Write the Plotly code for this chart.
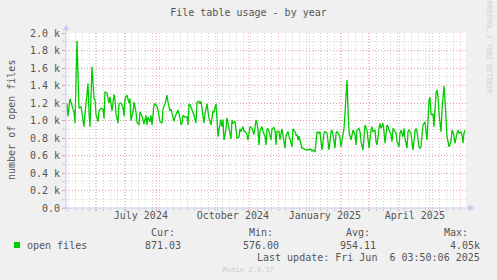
import plotly.graph_objects as go
import pandas as pd

# ---- data ----
day_index = [1, 2, 4, 6, 7, 8, 9, 11, 13, 15, 18, 19, 21, 22, 23, 24, 26, 28, 29, 30, 32, 33, 35, 37, 38,
             39, 41, 43, 44, 46, 48, 49, 50, 52, 53, 55, 57, 58, 59, 61, 63, 64, 65, 67, 68, 70, 71, 73,
             74, 76, 78, 80, 81, 82, 84, 85, 86, 88, 89, 91, 92, 94, 96, 97, 99, 101, 102, 103, 104, 105,
             106, 108, 109, 111, 112, 114, 115, 116, 117, 119, 121, 122, 123, 124, 126, 128, 130, 131, 133,
             134, 135, 136, 138, 139, 141, 142, 143, 145, 146, 147, 148, 150, 151, 152, 153, 154, 155, 156,
             157, 158, 160, 161, 162, 163, 165, 166, 167, 169, 170, 171, 173, 174, 175, 177, 178, 179, 181,
             182, 184, 186, 188, 189, 190, 191, 192, 193, 194, 196, 197, 199, 200, 201, 202, 203, 205, 206,
             208, 209, 210, 211, 213, 214, 215, 216, 217, 219, 220, 222, 223, 224, 226, 227, 229, 230, 231,
             232, 233, 235, 236, 237, 239, 240, 242, 243, 244, 245, 246, 247, 249, 250, 251, 253, 254, 255,
             256, 258, 259, 261, 262, 263, 265, 266, 267, 268, 269, 270, 271, 273, 274, 275, 277, 278, 279,
             280, 281, 282, 283, 285, 286, 287, 289, 290, 291, 293, 294, 295, 297, 298, 299, 301, 302, 303,
             305, 306, 307, 309, 310, 311, 313, 314, 315, 317, 318, 319, 321, 322, 323, 325, 326, 327, 329,
             330, 331, 333, 334, 335, 337, 338, 339, 341, 342, 343, 345, 346, 347, 349, 350, 351, 353, 354,
             355, 357, 358, 359, 361, 362, 363, 364, 365, 366, 367, 368, 369, 370, 371, 372, 373, 375, 376,
             377, 378, 379, 380, 381, 383, 385, 386, 387, 388, 389, 391, 392, 393, 395, 396, 397, 398, 399]
open_files = [1200, 1050, 1250, 1150, 1130, 1100, 970, 1910, 1140, 1160, 930, 1070, 1310, 1425, 1100, 930,
              1615, 1254, 1240, 1070, 986, 1110, 1140, 1130, 1020, 1330, 1310, 1200, 1270, 1110, 1300, 1240,
              1070, 970, 1190, 1200, 1150, 1050, 1250, 1290, 1200, 1250, 1000, 1100, 1210, 1100, 980, 950,
              1100, 1050, 960, 1060, 950, 1040, 986, 1060, 950, 1177, 1190, 1160, 1120, 986, 970, 1130, 1190,
              1290, 1210, 1140, 1110, 1130, 1080, 990, 1040, 1100, 1120, 1030, 950, 970, 1060, 1040, 1040,
              950, 1190, 1180, 1130, 1060, 970, 1210, 1220, 1190, 1220, 1130, 970, 1080, 1190, 1100, 1030,
              950, 1040, 1110, 1100, 1190, 1010, 815, 900, 960, 1010, 930, 1010, 777, 900, 1030, 960, 880,
              790, 1005, 970, 990, 890, 797, 810, 905, 875, 930, 875, 875, 840, 777, 930, 910, 840, 950, 1005,
              970, 900, 720, 885, 930, 875, 820, 720, 905, 905, 875, 777, 905, 920, 890, 720, 875, 875, 777,
              850, 905, 830, 683, 830, 875, 820, 790, 700, 905, 875, 830, 840, 777, 820, 700, 683, 683, 663,
              663, 670, 663, 675, 670, 650, 663, 640, 758, 872, 855, 872, 758, 663, 855, 872, 855, 758, 663,
              872, 890, 840, 720, 683, 855, 872, 840, 800, 700, 855, 910, 1082, 1349, 1463, 1120, 872, 777,
              855, 890, 837, 720, 890, 910, 872, 758, 663, 890, 949, 890, 740, 683, 890, 930, 872, 890, 758,
              720, 910, 968, 910, 968, 872, 740, 949, 930, 890, 837, 758, 910, 872, 855, 758, 700, 855, 890,
              815, 910, 800, 683, 872, 890, 855, 758, 663, 872, 910, 872, 700, 683, 700, 949, 968, 986, 777,
              968, 1234, 1265, 1082, 1063, 1080, 930, 1196, 1311, 1349, 1270, 1082, 872, 1120, 1300, 1394,
              1234, 1040, 815, 700, 758, 890, 872, 815, 740, 855, 890, 855, 872, 837, 740, 855, 890, 872, 872]
n = min(len(day_index), len(open_files))
day_index = day_index[:n]
open_files = open_files[:n]

y_tick_values = [0, 200, 400, 600, 800, 1000, 1200, 1400, 1600, 1800, 2000]
y_tick_labels = ["0.0", "0.2 k", "0.4 k", "0.6 k", "0.8 k", "1.0 k", "1.2 k", "1.4 k", "1.6 k", "1.8 k", "2.0 k"]
x_label_dates = ["2024-07-16", "2024-10-16", "2025-01-16", "2025-04-16"]
x_label_texts = ["July 2024", "October 2024", "January 2025", "April 2025"]

legend_stats = {"Cur:": "871.03", "Min:": "576.00", "Avg:": "954.11", "Max:": "4.05k"}

# ---- figure ----
end = pd.Timestamp("2025-06-06 03:50:06")
start = end - pd.Timedelta(days=400)
dates = start + pd.to_timedelta(day_index, unit="D")

FONT = "DejaVu Sans Mono"
TXT = "#555555"
RED_GRID = "rgba(235,110,110,0.5)"
GRAY_GRID = "rgba(170,170,170,0.5)"
AXIS = "#c8c8f0"

fig = go.Figure()
fig.add_trace(go.Scatter(x=dates, y=open_files, mode="lines",
                         line=dict(color="#00cc00", width=1.3), showlegend=False,
                         hoverinfo="skip"))
fig.add_trace(go.Scatter(x=[start, end], y=[None, None], xaxis="x2", mode="lines",
                         showlegend=False, hoverinfo="skip"))

W, H = 497, 280
L, R, T, B = 66, 31, 33, 72
pw, ph = W - L - R, H - T - B


def px(x):
    return (x - L) / pw


def py(y):
    return (H - B - y) / ph


fig.update_layout(
    width=W, height=H,
    margin=dict(l=L, r=R, t=T, b=B, pad=0),
    paper_bgcolor="#f0f0f0", plot_bgcolor="white",
    font=dict(family=FONT, size=10, color=TXT),
    title=dict(text="File table usage - by year", x=0.5, xref="container", xanchor="center",
               y=1 - 12 / H, yref="container", yanchor="middle",
               font=dict(family=FONT, size=10, color=TXT)),
    xaxis=dict(type="date", range=[start, end], tick0="2024-06-01", dtick="M1",
               showticklabels=False, showgrid=True, gridcolor=RED_GRID, griddash="1px,2px",
               gridwidth=1, ticks="outside", ticklen=2, tickcolor=RED_GRID,
               minor=dict(dtick=7 * 86400000, tick0="2024-05-05", showgrid=True,
                          gridcolor=GRAY_GRID, griddash="1px,2px", gridwidth=1,
                          ticks="outside", ticklen=2, tickcolor=GRAY_GRID),
               showline=False, zeroline=False, fixedrange=True),
    xaxis2=dict(type="date", overlaying="x", anchor="y", side="bottom", range=[start, end],
                tickmode="array", tickvals=x_label_dates, ticktext=x_label_texts,
                showgrid=False, ticks="", showline=False, zeroline=False,
                tickfont=dict(family=FONT, size=10, color=TXT)),
    yaxis=dict(range=[0, 2000], tickmode="array", tickvals=y_tick_values, ticktext=y_tick_labels,
               showgrid=True, gridcolor=RED_GRID, griddash="1px,2px", gridwidth=1,
               ticks="outside", ticklen=3, tickcolor=RED_GRID,
               minor=dict(dtick=100, tick0=0, showgrid=True, gridcolor=GRAY_GRID,
                          griddash="1px,2px", ticks="outside", ticklen=3, tickcolor=GRAY_GRID),
               showline=False, zeroline=False,
               tickfont=dict(family=FONT, size=10, color=TXT)),
)

ann = []
ann.append(dict(text="number of open files", textangle=-90, x=px(11), y=py(120), xref="paper",
                yref="paper", showarrow=False, xanchor="center", yanchor="middle",
                font=dict(family=FONT, size=10, color=TXT)))
ann.append(dict(text="RRDTOOL / TOBI OETIKER", textangle=90, x=px(489), y=py(48), xref="paper",
                yref="paper", showarrow=False, xanchor="center", yanchor="middle",
                font=dict(family=FONT, size=7, color="#cfcfcf")))
ann.append(dict(text="open files", x=px(25), y=py(245.5), xref="paper", yref="paper",
                showarrow=False, xanchor="left", yanchor="middle"))
header_right = [177, 275, 372, 470]
value_right = [183, 281, 378, 482]
for (hdr, val), hx, vx in zip(legend_stats.items(), header_right, value_right):
    ann.append(dict(text=hdr, x=px(hx), y=py(232), xref="paper", yref="paper",
                    showarrow=False, xanchor="right", yanchor="middle"))
    ann.append(dict(text=val, x=px(vx), y=py(245.5), xref="paper", yref="paper",
                    showarrow=False, xanchor="right", yanchor="middle"))
ann.append(dict(text="Last update: Fri Jun  6 03:50:06 2025".replace("  ", "&nbsp; "),
                x=px(482), y=py(257.5), xref="paper", yref="paper",
                showarrow=False, xanchor="right", yanchor="middle"))
ann.append(dict(text="Munin 2.0.37", x=px(248), y=py(269.5), xref="paper", yref="paper",
                showarrow=False, xanchor="center", yanchor="middle",
                font=dict(family=FONT, size=7, color="#cccccc")))
fig.update_layout(annotations=ann)

# legend swatch
fig.add_shape(type="rect", xref="paper", yref="paper", x0=px(14), x1=px(20), y0=py(248), y1=py(242),
              fillcolor="#00cc00", line=dict(width=0))
# axis lines with arrowheads (rrdtool style)
fig.add_shape(type="line", xref="paper", yref="paper", x0=px(62), x1=px(470), y0=py(208), y1=py(208),
              line=dict(color=AXIS, width=1))
fig.add_shape(type="line", xref="paper", yref="paper", x0=px(66), x1=px(66), y0=py(212), y1=py(28),
              line=dict(color=AXIS, width=1))
fig.add_shape(type="path", xref="paper", yref="paper",
              path=f"M {px(469)} {py(205)} L {px(474)} {py(208)} L {px(469)} {py(211)} Z",
              fillcolor=AXIS, line=dict(color=AXIS, width=0.5))
fig.add_shape(type="path", xref="paper", yref="paper",
              path=f"M {px(63)} {py(30)} L {px(66)} {py(25)} L {px(69)} {py(30)} Z",
              fillcolor=AXIS, line=dict(color=AXIS, width=0.5))

fig.write_html("out.html")
